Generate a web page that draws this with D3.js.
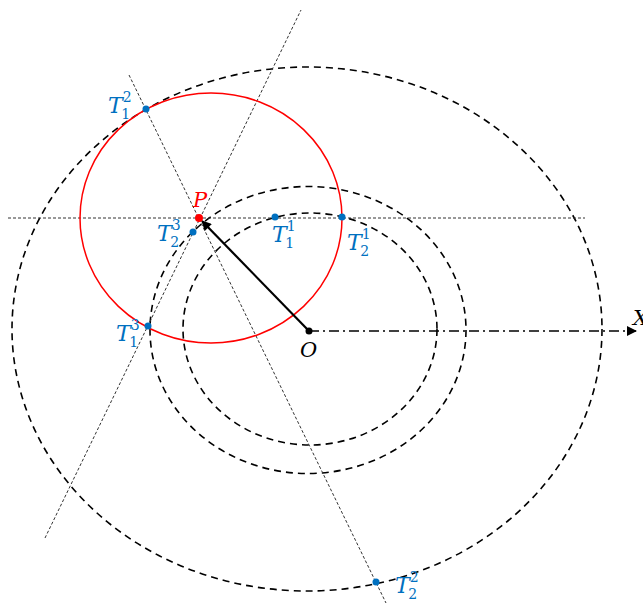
<!DOCTYPE html>
<html>
<head>
<meta charset="utf-8">
<script src="https://cdn.jsdelivr.net/npm/d3@7"></script>
<style>
  html, body { margin: 0; padding: 0; background: #fff; }
  svg { display: block; }
</style>
</head>
<body>
<svg id="fig"></svg>
<script>
// ── 図の数値（原点 O を (0,0)、上向き y を正とする単位系）──
const ellipses = [            // 破線の楕円
  { cx: -0.02, cy: 0.02, rx: 2.95, ry: 2.62 },
  { cx: -0.01, cy: 0.01, rx: 1.58, ry: 1.435 },
  { cx: 0.01, cy: 0.02, rx: 1.27, ry: 1.16 },
];
const redCircle = { cx: -0.98, cy: 1.13, rx: 1.31, ry: 1.25 };
const pointP = { x: -1.10, y: 1.13 };
const origin = { x: 0, y: 0 };
const guideLines = [          // 細い点線
  { x1: -3.01, y1: 1.13, x2: 2.76, y2: 1.13 },
  { x1: -2.64, y1: -2.07, x2: -0.08, y2: 3.21 },
  { x1: -1.80, y1: 2.56, x2: 0.77, y2: -2.72 },
];
const axisX = { x1: 0, y1: 0, x2: 3.27, y2: 0 };
const tPoints = [
  { sub: '1', sup: '2', x: -1.63, y: 2.22, lx: -2.01, ly: 2.18 },
  { sub: '2', sup: '3', x: -1.16, y: 0.99, lx: -1.52, ly: 0.90 },
  { sub: '1', sup: '1', x: -0.34, y: 1.14, lx: -0.37, ly: 0.89 },
  { sub: '2', sup: '1', x: 0.33, y: 1.14, lx: 0.38, ly: 0.81 },
  { sub: '1', sup: '3', x: -1.61, y: 0.05, lx: -1.93, ly: -0.10 },
  { sub: '2', sup: '2', x: 0.67, y: -2.51, lx: 0.86, ly: -2.62 },
];
const plainLabels = [
  { text: 'P', x: -1.16, y: 1.24, color: 'red' },
  { text: 'O', x: -0.09, y: -0.26, color: 'black' },
  { text: 'X', x: 3.24, y: 0.06, color: 'black' },
];

const W = 643, H = 605;
const BLUE = '#0070c0';
const MATH_FONT = '"DejaVu Serif", serif';

const x = d3.scaleLinear().domain([-3.09, 3.34]).range([0, W]);
const y = d3.scaleLinear().domain([3.31, -2.74]).range([0, H]);
const kx = x(1) - x(0), ky = y(0) - y(1);

const svg = d3.select('#fig').attr('width', W).attr('height', H);

const defs = svg.append('defs');
defs.append('marker').attr('id', 'ah')
  .attr('viewBox', '0 0 10 10').attr('refX', 9).attr('refY', 5)
  .attr('markerUnits', 'userSpaceOnUse')
  .attr('markerWidth', 11).attr('markerHeight', 10)
  .attr('orient', 'auto')
  .append('path').attr('d', 'M0,0 L10,5 L0,10 Z').attr('fill', '#000');

// 破線楕円
svg.selectAll('.ell').data(ellipses).enter().append('ellipse')
  .attr('class', 'ell')
  .attr('cx', d => x(d.cx)).attr('cy', d => y(d.cy))
  .attr('rx', d => d.rx * kx).attr('ry', d => d.ry * ky)
  .attr('fill', 'none').attr('stroke', '#000')
  .attr('stroke-width', 1.6).attr('stroke-dasharray', '7,5');

// 補助線（点線）
svg.selectAll('.guide').data(guideLines).enter().append('line')
  .attr('class', 'guide')
  .attr('x1', d => x(d.x1)).attr('y1', d => y(d.y1))
  .attr('x2', d => x(d.x2)).attr('y2', d => y(d.y2))
  .attr('stroke', '#333').attr('stroke-width', 1)
  .attr('stroke-dasharray', '3,2');

// X 軸（一点鎖線）
svg.append('line')
  .attr('x1', x(axisX.x1)).attr('y1', y(axisX.y1))
  .attr('x2', x(axisX.x2)).attr('y2', y(axisX.y2))
  .attr('stroke', '#000').attr('stroke-width', 1.6)
  .attr('stroke-dasharray', '10,4,2,4')
  .attr('marker-end', 'url(#ah)');

// 赤い円
svg.append('ellipse')
  .attr('cx', x(redCircle.cx)).attr('cy', y(redCircle.cy))
  .attr('rx', redCircle.rx * kx).attr('ry', redCircle.ry * ky)
  .attr('fill', 'none').attr('stroke', 'red').attr('stroke-width', 1.5);

// O → P の矢印
svg.append('line')
  .attr('x1', x(origin.x)).attr('y1', y(origin.y))
  .attr('x2', x(pointP.x) + 3).attr('y2', y(pointP.y) + 3)
  .attr('stroke', '#000').attr('stroke-width', 2.2)
  .attr('marker-end', 'url(#ah)');

// 点
svg.append('circle').attr('cx', x(origin.x)).attr('cy', y(origin.y)).attr('r', 3.5).attr('fill', '#000');
svg.append('circle').attr('cx', x(pointP.x)).attr('cy', y(pointP.y)).attr('r', 4).attr('fill', 'red');
svg.selectAll('.tp').data(tPoints).enter().append('circle')
  .attr('class', 'tp')
  .attr('cx', d => x(d.x)).attr('cy', d => y(d.y))
  .attr('r', 3.5).attr('fill', BLUE);

// ラベル T_sub^sup
tPoints.forEach(d => {
  const lx = x(d.lx), ly = y(d.ly);
  const t = svg.append('text')
    .attr('x', lx).attr('y', ly)
    .attr('font-family', MATH_FONT).attr('font-style', 'italic')
    .attr('font-size', 22).attr('fill', BLUE).text('T');
  let w = 14;
  try { w = t.node().getComputedTextLength(); } catch (e) {}
  svg.append('text')
    .attr('x', lx + w).attr('y', ly - 11)
    .attr('font-family', MATH_FONT).attr('font-size', 14).attr('fill', BLUE)
    .text(d.sup);
  svg.append('text')
    .attr('x', lx + w - 1.5).attr('y', ly + 6)
    .attr('font-family', MATH_FONT).attr('font-size', 14).attr('fill', BLUE)
    .text(d.sub);
});

svg.selectAll('.pl').data(plainLabels).enter().append('text')
  .attr('class', 'pl')
  .attr('x', d => x(d.x)).attr('y', d => y(d.y))
  .attr('font-family', MATH_FONT).attr('font-style', 'italic')
  .attr('font-size', 21).attr('fill', d => d.color)
  .text(d => d.text);
</script>
</body>
</html>
